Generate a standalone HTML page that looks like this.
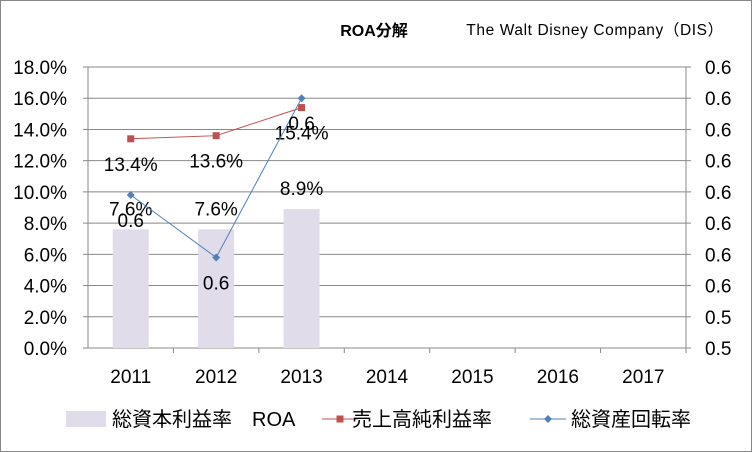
<!DOCTYPE html>
<html><head><meta charset="utf-8"><style>
body{margin:0;background:#fff;}
svg{display:block;font-family:"Liberation Sans","Noto Sans CJK JP",sans-serif;}
</style></head><body>
<svg id="c" width="752" height="452">
<rect x="0.5" y="0.5" width="751" height="451" fill="#fff" stroke="#888"/>
<text x="374" y="36" font-size="16" font-weight="bold" text-anchor="middle">ROA分解</text>
<text x="595" y="35" font-size="15.5" letter-spacing="0.6" text-anchor="middle">The Walt Disney Company（DIS）</text>
<g id="plot"></g>
</svg>
<script>
const categories=["2011","2012","2013","2014","2015","2016","2017"];
const roa=[7.6,7.6,8.9];
const margin=[13.4,13.6,15.4];
const turnover=[0.579,0.559,0.610];
const leftTicks=[0,2,4,6,8,10,12,14,16,18];
const rightTicks=[0.53,0.54,0.55,0.56,0.57,0.58,0.59,0.60,0.61,0.62];
const X0=88,X1=686,Y0=348,Y1=67;
const FS=19;
const ns="http://www.w3.org/2000/svg";
const g=document.getElementById("plot");
const bw=(X1-X0)/categories.length;
const xc=i=>X0+bw*(i+0.5);
const yL=v=>Y0-(v-0)/18*(Y0-Y1);
const yR=v=>Y0-(v-0.53)/0.09*(Y0-Y1);
function el(t,a,txt){const e=document.createElementNS(ns,t);for(const k in a)e.setAttribute(k,a[k]);if(txt!=null)e.textContent=txt;g.appendChild(e);return e;}
leftTicks.forEach(v=>{
 const e=el("line",{x1:X0,x2:X1,y1:yL(v),y2:yL(v),stroke:"#888","stroke-width":1});
 
 
 const t=el("text",{x:X0-21,y:yL(v)+7,"font-size":FS,"text-anchor":"end"},v.toFixed(1)+"%");
 
 
 const k=el("line",{x1:X0-5,x2:X0,y1:yL(v),y2:yL(v),stroke:"#888"});
 
 
});
rightTicks.forEach(v=>{
 const t=el("text",{x:X1+19,y:yR(v)+7,"font-size":FS},v.toFixed(1));
 
 
 const k=el("line",{x1:X1,x2:X1+5,y1:yR(v),y2:yR(v),stroke:"#888"});
 
 
});
let a=el("line",{x1:X0,x2:X0,y1:Y1,y2:Y0,stroke:"#888"});

a=el("line",{x1:X1,x2:X1,y1:Y1,y2:Y0,stroke:"#888"});

categories.forEach((c,i)=>{
 const t=el("text",{x:xc(i),y:Y0+35,"font-size":FS,"text-anchor":"middle"},c);
 
 
 const k=el("line",{x1:X0+bw*(i+1),x2:X0+bw*(i+1),y1:Y0,y2:Y0+5,stroke:"#888"});
 
 
});
roa.forEach((v,i)=>{
 const b=el("rect",{x:xc(i)-18,y:yL(v),width:36,height:Y0-yL(v),fill:"#e0dcea"});
 
 
 const t=el("text",{x:xc(i),y:yL(v)-14,"font-size":FS,"text-anchor":"middle"},v.toFixed(1)+"%");
 
 
});
function series(vals,yf,color,name,marker,fmt){
 const p=el("polyline",{points:vals.map((v,i)=>xc(i)+","+yf(v)).join(" "),fill:"none",stroke:color,"stroke-width":1});
 
 
 vals.forEach((v,i)=>{
  const x=xc(i),y=yf(v);
  const m=marker=="sq"?el("rect",{x:x-3.5,y:y-3.5,width:7,height:7,fill:color}):el("polygon",{points:`${x},${y-4} ${x+4},${y} ${x},${y+4} ${x-4},${y}`,fill:color});
  
  
  const t=el("text",{x:x,y:y+32,"font-size":FS,"text-anchor":"middle"},fmt(v));
  
  
 });
}
series(margin,yL,"#c0504d","margin","sq",v=>v.toFixed(1)+"%");
series(turnover,yR,"#4f81bd","turnover","di",v=>v.toFixed(1));
// legend
let r=el("rect",{x:66,y:411,width:40,height:16,fill:"#e0dcea"});

r=el("text",{x:112,y:426,"font-size":20},"総資本利益率　ROA");

r=el("line",{x1:322,x2:358,y1:419,y2:419,stroke:"#c0504d"});

r=el("rect",{x:336.5,y:415.5,width:7,height:7,fill:"#c0504d"});

r=el("text",{x:352,y:426,"font-size":20},"売上高純利益率");

r=el("line",{x1:530,x2:566,y1:419,y2:419,stroke:"#4f81bd"});

r=el("polygon",{points:"548,415 552,419 548,423 544,419",fill:"#4f81bd"});

r=el("text",{x:571,y:426,"font-size":20},"総資産回転率");

</script>
</body></html>
